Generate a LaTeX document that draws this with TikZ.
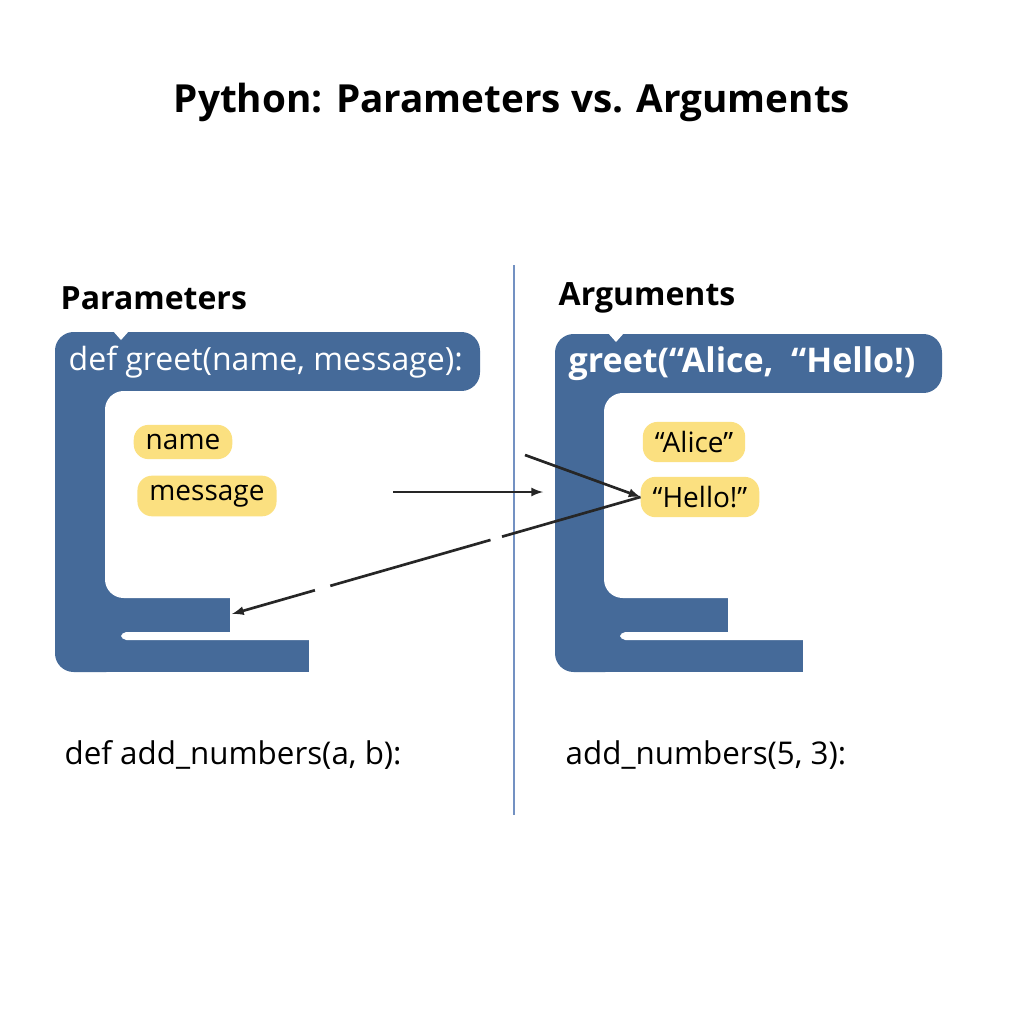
\documentclass[tikz,border=0pt]{standalone}
\usepackage{fontspec}
\setmainfont{Open Sans}
\begin{document}
\begin{tikzpicture}[x=0.75pt,y=-0.75pt,
  pill/.style={fill=pyel,rounded corners=11pt,inner xsep=9pt,inner ysep=7pt,font=\fontsize{21}{24}\selectfont},
  code/.style={text=white,font=\fontsize{24}{28}\selectfont,anchor=west},
  hdr/.style={font=\bfseries\fontsize{24}{28}\selectfont,anchor=west},
  plain/.style={font=\fontsize{23.5}{28}\selectfont,anchor=west},
  arr/.style={-latex,line width=2pt,black!85}]
\definecolor{bblue}{HTML}{456A99}
\definecolor{pyel}{HTML}{FBE080}
\definecolor{divc}{HTML}{7391C2}
\useasboundingbox[fill=white] (0,0) rectangle (1024,1024);
\node[font=\bfseries\fontsize{29}{34}\selectfont] (title) at (512,102) {Python: Parameters vs. Arguments};
\draw[divc,line width=1.5pt] (514,265) -- (514,815);
\newcommand{\myblock}[9]{%
  \fill[bblue,rounded corners=14pt] (#1,#2) rectangle (#3,#4);
  \fill[bblue,rounded corners=14pt] (#1,#2+20) rectangle (#5+20,672);
  \fill[bblue] (#1+20,598) rectangle (#6,632);
  \fill[bblue] (#1+20,640) rectangle (#8,672);
  \fill[bblue] (#1+20,598) rectangle (#5+30,672);
  \fill[white,rounded corners=4pt] (#7,632) rectangle (#8+20,640);
  \fill[white,rounded corners=14pt] (#5,#4) rectangle (#5+400,598);
  \fill[white] (#9-8,#2-1) -- (#9+8,#2-1) -- (#9,#2+8) -- cycle;
}
\myblock{55}{332}{480}{391}{105}{230}{121}{309}{121}
\myblock{555}{334}{942}{393}{604}{728}{620}{803}{616}
\node[hdr] (lh) at (56,298) {Parameters};
\node[hdr] (rh) at (554,298) {Arguments};
\node[code] (lc) at (64,362) {def greet(name, message):};
\node[code,font=\bfseries\fontsize{25.5}{30}\selectfont] (rc) at (564,364) {greet(“Alice,~ “Hello!)};
\node[pill] (pn) at (183,442) {name};
\node[pill] (pm) at (207,496) {message};
\node[pill] (pa) at (694,442) {“Alice”};
\node[pill] (ph) at (700,497) {“Hello!”};
\node[plain] (lb) at (60,755) {def add\_numbers(a, b):};
\node[plain] (rb) at (561,755) {add\_numbers(5, 3):};
\coordinate (s1) at (393,492);
\coordinate (e1) at (543,492);
\coordinate (s2) at (525,455);
\coordinate (e3) at (232,614);
\draw[arr] (s1) -- (e1);
\draw[arr] (s2) -- (ph.west);
\draw[arr,dash pattern=on 108pt off 9pt on 125pt off 12pt on 80pt] (ph.west) -- (e3);
\end{tikzpicture}
\end{document}
